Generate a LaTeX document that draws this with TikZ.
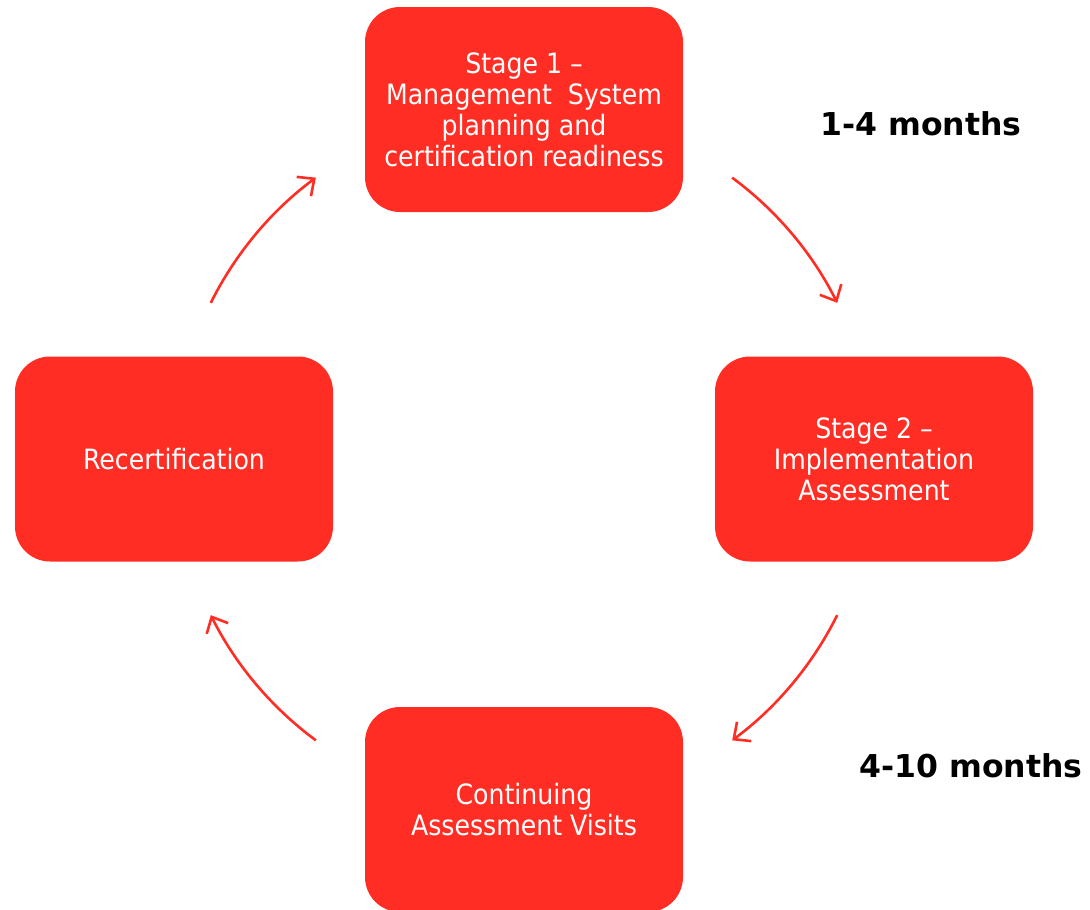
\documentclass[tikz,border=0pt]{standalone}
\usepackage{fontspec}
\setmainfont{DejaVu Sans Condensed}
\newfontfamily\labelfont{DejaVu Sans}
\usetikzlibrary{arrows.meta}
\definecolor{boxred}{RGB}{255,45,35}
\begin{document}
\begin{tikzpicture}[x=1pt,y=-1pt,
  stagebox/.style={rectangle, rounded corners=35pt, fill=boxred, draw=none,
    minimum width=318pt, minimum height=205pt, inner sep=0pt, text=white,
    align=center, font=\fontsize{28}{31}\selectfont},
  cyclearrow/.style={draw=boxred, line width=2.6pt,
    -{Straight Barb[length=13pt,width=24pt,line width=2.6pt]}},
  duration/.style={font=\labelfont\fontsize{31.5}{36}\selectfont\bfseries, text=black, inner sep=0pt}]
\useasboundingbox (0,0) rectangle (1090,910);
\node[stagebox] (s1) at (524,109.5) {Stage 1 --\\Management\ \ System\\planning and\\certification readiness};
\node[stagebox] (s2) at (874,459) {Stage 2 --\\Implementation\\Assessment};
\node[stagebox] (s3) at (524,809.5) {Continuing\\Assessment Visits};
\node[stagebox] (s4) at (174,459) {Recertification};
\node[duration] (d1) at (921,124) {1-4 months};
\node[duration] (d2) at (971,766) {4-10 months};
\coordinate (c) at (524,459);
\draw[cyclearrow] ([shift={(53.5:350pt)}]c) arc[start angle=53.5, end angle=26.5, radius=350pt];
\draw[cyclearrow] ([shift={(-26.5:350pt)}]c) arc[start angle=-26.5, end angle=-53.5, radius=350pt];
\draw[cyclearrow] ([shift={(233.5:350pt)}]c) arc[start angle=233.5, end angle=206.5, radius=350pt];
\draw[cyclearrow] ([shift={(153.5:350pt)}]c) arc[start angle=153.5, end angle=126.5, radius=350pt];
\end{tikzpicture}
\end{document}
